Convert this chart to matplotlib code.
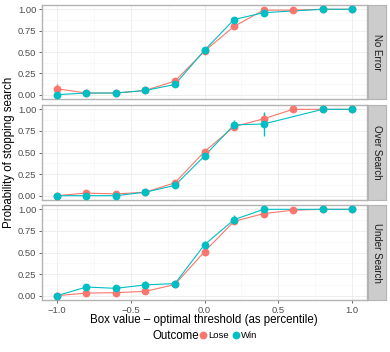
import matplotlib.pyplot as plt
import numpy as np
from matplotlib.lines import Line2D

plt.rcParams['font.family'] = ['Liberation Sans', 'DejaVu Sans']

x = [-1.0, -0.8, -0.6, -0.4, -0.2, 0.0, 0.2, 0.4, 0.6, 0.8, 1.0]
panels = ["No Error", "Over Search", "Under Search"]
nan = np.nan

lose = {
    "No Error":     [0.07, 0.02, 0.02, 0.05, 0.16, 0.51, 0.80, 0.99, 0.99, 1.00, 1.00],
    "Over Search":  [0.00, 0.03, 0.02, 0.04, 0.15, 0.51, 0.80, 0.89, 1.00, 1.00, 1.00],
    "Under Search": [0.00, 0.03, 0.035, 0.05, 0.13, 0.51, 0.86, 0.95, 0.99, 1.00, 1.00],
}
lose_err = {
    "No Error":     [0.06, 0.01, 0.01, 0.01, 0.02, 0.02, 0.02, 0.01, 0.01, 0.0, 0.0],
    "Over Search":  [0.0, 0.01, 0.01, 0.01, 0.02, 0.02, 0.03, 0.07, 0.0, 0.0, 0.0],
    "Under Search": [0.0, 0.01, 0.01, 0.01, 0.02, 0.02, 0.02, 0.02, 0.01, 0.0, 0.0],
}
win = {
    "No Error":     [0.00, 0.02, 0.02, 0.05, 0.12, 0.52, 0.88, 0.96, nan, 1.00, 1.00],
    "Over Search":  [0.00, 0.00, 0.00, 0.04, 0.12, 0.46, 0.82, 0.83, nan, 1.00, 1.00],
    "Under Search": [0.00, 0.10, 0.085, 0.125, 0.14, 0.59, 0.88, 1.00, nan, 1.00, 1.00],
}
win_err = {
    "No Error":     [0.0, 0.01, 0.01, 0.01, 0.02, 0.02, 0.02, 0.02, 0.0, 0.0, 0.0],
    "Over Search":  [0.0, 0.0, 0.0, 0.01, 0.02, 0.03, 0.06, 0.14, 0.0, 0.0, 0.0],
    "Under Search": [0.0, 0.04, 0.03, 0.04, 0.02, 0.04, 0.05, 0.01, 0.0, 0.0, 0.0],
}

c_lose = "#F8766D"
c_win = "#00BFC4"
W, H = 390, 352
fig = plt.figure(figsize=(W / 100, H / 100), dpi=100)

spans = [(5, 99), (105, 200), (205, 300)]
left, right = 42, 367
for i, name in enumerate(panels):
    top, bot = spans[i]
    ax = fig.add_axes([left / W, 1 - bot / H, (right - left) / W, (bot - top) / H])
    for ys, es, c in [(lose[name], lose_err[name], c_lose), (win[name], win_err[name], c_win)]:
        xs = np.array(x); ys = np.array(ys); es = np.array(es)
        m = ~np.isnan(ys)
        ax.plot(xs[m], ys[m], color=c, lw=0.8, zorder=3)
        ax.errorbar(xs[m], ys[m], yerr=es[m], fmt='o', color=c, ms=4.6,
                    elinewidth=1.0, capsize=0, zorder=4)
    ax.set_xlim(-1.1, 1.1)
    ax.set_ylim(-0.05, 1.05)
    ax.set_yticks([0, 0.25, 0.5, 0.75, 1.0])
    ax.set_yticklabels(["0.00", "0.25", "0.50", "0.75", "1.00"])
    ax.set_xticks([-1.0, -0.5, 0.0, 0.5, 1.0])
    ax.set_xticks([-0.75, -0.25, 0.25, 0.75], minor=True)
    ax.set_yticks([0.125, 0.375, 0.625, 0.875], minor=True)
    ax.grid(which='major', color='#ebebeb', lw=0.6)
    ax.grid(which='minor', color='#f5f5f5', lw=0.4)
    ax.set_axisbelow(True)
    for s in ax.spines.values():
        s.set_color('#b3b3b3')
        s.set_linewidth(1.0)
    ax.tick_params(which='major', length=2.5, width=0.6, color='#4d4d4d', labelsize=6.8,
                   labelcolor='#4d4d4d', pad=1.5)
    ax.tick_params(which='minor', length=0)
    if i < 2:
        ax.set_xticklabels([])
        ax.tick_params(axis='x', length=0)
    else:
        ax.set_xticklabels(["\u22121.0", "\u22120.5", "0.0", "0.5", "1.0"])
    # facet strip
    sx = fig.add_axes([(right + 1) / W, 1 - bot / H, 18 / W, (bot - top) / H])
    sx.set_facecolor('#cccccc')
    sx.set_xticks([]); sx.set_yticks([])
    for s in sx.spines.values():
        s.set_color('#b3b3b3')
    sx.text(0.5, 0.5, name, rotation=-90, ha='center', va='center',
            fontsize=7, color='#1a1a1a', transform=sx.transAxes)

fig.text(204 / W, 1 - 320 / H, "Box value \u2013 optimal threshold (as percentile)",
         ha='center', va='center', fontsize=8.3, color='black')
fig.text(9 / W, 1 - 152 / H, "Probability of stopping search", rotation=90,
         ha='center', va='center', fontsize=8.3, color='black')

# legend: title on the left, keys to its right
fig.text(199 / W, 1 - 336 / H, "Outcome", ha='right', va='center', fontsize=8.3)
handles = [Line2D([], [], marker='o', ls='', color=c_lose, ms=4.6),
           Line2D([], [], marker='o', ls='', color=c_win, ms=4.6)]
fig.legend(handles, ["Lose", "Win"], loc='center left',
           bbox_to_anchor=(199 / W, 1 - 336 / H), ncol=2, frameon=False,
           fontsize=6.8, handlelength=0.8, handletextpad=0.15,
           columnspacing=0.4, borderpad=0, borderaxespad=0)

fig.savefig("out.png", dpi=100)
